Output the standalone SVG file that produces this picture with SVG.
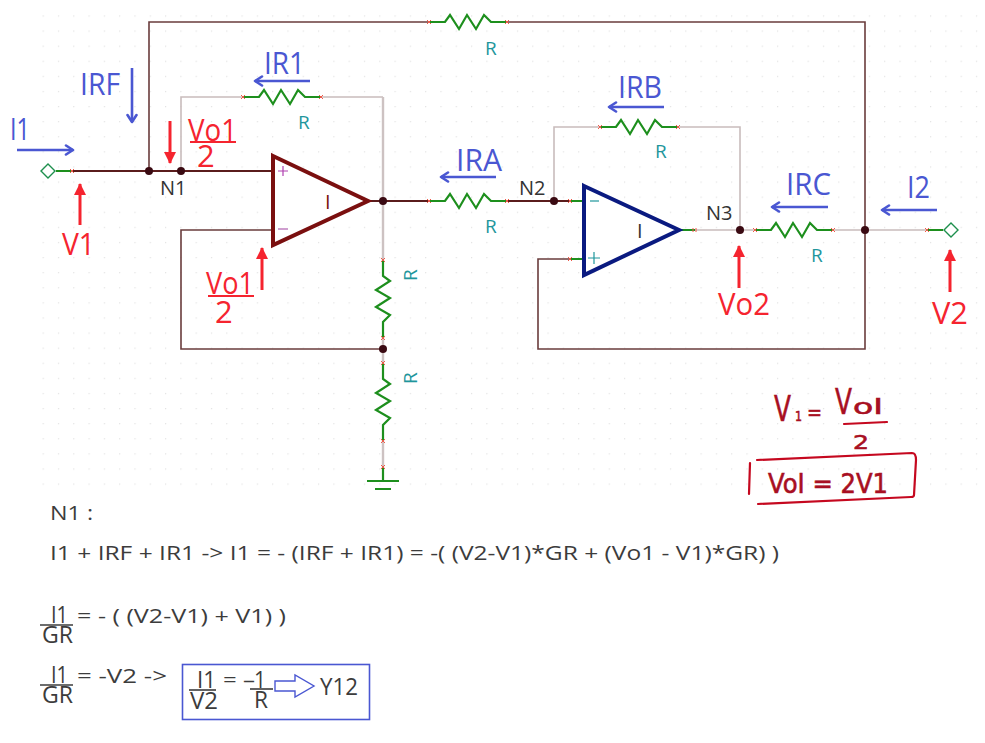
<svg xmlns="http://www.w3.org/2000/svg" width="985" height="743" viewBox="0 0 985 743">
<style>
text{font-family:"Open Sans","Noto Sans","Liberation Sans",sans-serif}
.w{fill:none;stroke:#6a3c3c;stroke-width:1.6}
.wd{fill:none;stroke:#5a1c1c;stroke-width:2}
.wl{fill:none;stroke:#c9bcbc;stroke-width:1.6}
.wt{fill:none;stroke:#cdc2c2;stroke-width:2.4}
.g{fill:none;stroke:#1d8f1d;stroke-width:2.2}
.pin{fill:none;stroke:#ee5a4a;stroke-width:1}
.dot{fill:#3a0a12}
.rl{fill:#1f969c;font-size:19px}
.bl{fill:#4a57d2;font-size:31px}
.rd{fill:#f5242f;font-size:31px}
.blk{fill:#333;font-size:20px}
.eq{fill:#3c3c3c;font-size:20px}
.frac{fill:#3c3c3c;font-size:24px}
.ba{fill:none;stroke:#4a57d2;stroke-width:2.6;marker-end:url(#ah)}
.ra{fill:none;stroke:#f5242f;stroke-width:3;marker-end:url(#rh)}
.ln{stroke:#3c3c3c;stroke-width:1.6}
.hand{fill:#a80f22;font-family:"DejaVu Sans",sans-serif;stroke:#a80f22;stroke-width:.6}
.hl{fill:none;stroke:#c5081f;stroke-width:2.2;stroke-linecap:round}
</style>
<defs>
<pattern id="grid" x="12" y="0.3" width="15.3" height="15.1" patternUnits="userSpaceOnUse"><rect width="1.2" height="1.2" fill="#e2e2e2"/></pattern>
<marker id="ah" viewBox="0 0 12 12" refX="10" refY="6" markerWidth="12" markerHeight="12" markerUnits="userSpaceOnUse" orient="auto"><path d="M3 1.5L10 6L3 10.5" fill="none" stroke="#4a57d2" stroke-width="2.6" stroke-linecap="round" stroke-linejoin="round"/></marker>
<marker id="rh" viewBox="0 0 12 14" refX="11" refY="7" markerWidth="12" markerHeight="14" markerUnits="userSpaceOnUse" orient="auto"><path d="M0 1L12 7L0 13Z" fill="#f5242f"/></marker>
<g id="res"><path class="g" d="M0 0H16L21 -7L30 7L38 -7L47 7L55 -7L62 0H78"/><path class="pin" d="M-2 -2L2 2M-2 2L2 -2M76 -2L80 2M76 2L80 -2"/></g>
</defs>
<rect x="35" y="5" width="950" height="492" fill="url(#grid)"/>
<g id="connectors">
<path class="w" d="M149 171V22H429M507 22H865V349H538V259H570"/>
<path class="wd" d="M72 171H272"/>
<path class="wl" d="M181 171V97H243M321 97H383"/>
<path class="wt" d="M383 97V260M383 335V363M383 441V467"/>
<path class="w" d="M272 230H181V349H383"/>
<path class="wd" d="M368 201H429M507 201H584"/>
<path class="wl" d="M554 201V127H600M678 127H740V230"/>
<path class="wl" d="M679 230H755M833 230H927"/>
<path class="g" d="M56 171H72M927 230H943M695 230H679M570 201H584M570 259H584"/>
<path class="g" d="M383 467V481"/>
<path class="pin" d="M70 169L74 173M70 173L74 169M925 228L929 232M925 232L929 228M568 257L572 261M568 261L572 257M568 199L572 203M568 203L572 199M693 228V232M696 228V232M381 465L385 469M381 469L385 465"/>
</g>
<g id="grid-nodes">
<g id="R-top"><use href="#res" x="429" y="22"/><text class="rl" x="485" y="55">R</text></g>
<g id="R1"><use href="#res" x="243" y="97"/><text class="rl" x="298" y="129">R</text></g>
<g id="RB"><use href="#res" x="600" y="127"/><text class="rl" x="655" y="158">R</text></g>
<g id="RA"><use href="#res" x="429" y="201"/><text class="rl" x="485" y="233">R</text></g>
<g id="RC"><use href="#res" x="755" y="230"/><text class="rl" x="811" y="262">R</text></g>
<g id="R2"><use href="#res" transform="translate(383 260) rotate(90)"/><text class="rl" transform="translate(417 281) rotate(-90)">R</text></g>
<g id="R3"><use href="#res" transform="translate(383 363) rotate(90)"/><text class="rl" transform="translate(417 384) rotate(-90)">R</text></g>
<g id="GND"><path class="g" d="M367 481H399M375 489H391"/></g>
<g id="P1"><path d="M48 164L55 171L48 178L41 171Z" fill="#fff" stroke="#1d8f4d" stroke-width="1.4"/></g>
<g id="P2"><path d="M951 223L958 230L951 237L944 230Z" fill="#fff" stroke="#1d8f4d" stroke-width="1.4"/></g>
<g id="U1"><path d="M273 156L368 201L273 245Z" fill="#fff" stroke="#7a0f0f" stroke-width="4"/><path d="M283 166V176M278 171H288" stroke="#b040b0" stroke-width="1.2"/><path d="M278 229H288" stroke="#b060b0" stroke-width="1.2"/><text x="325" y="209" font-size="20" fill="#7a0f0f">I</text></g>
<g id="U2"><path d="M584 186L679 230L584 275Z" fill="#fff" stroke="#0a1a80" stroke-width="4"/><path d="M590 201H599" stroke="#1f969c" stroke-width="1.2"/><path d="M594 252V264M588 258H600" stroke="#1f969c" stroke-width="1.2"/><text x="637" y="238" font-size="20" fill="#333">I</text></g>
<g id="J"><circle class="dot" cx="149" cy="171" r="4"/><circle class="dot" cx="181" cy="171" r="4"/><circle class="dot" cx="383" cy="201" r="4"/><circle class="dot" cx="383" cy="349" r="4"/><circle class="dot" cx="554" cy="201" r="4"/><circle class="dot" cx="740" cy="230" r="4"/><circle class="dot" cx="865" cy="230" r="4"/></g>
</g>
<g id="labels">
<text class="blk" x="160" y="195">N1</text><text class="blk" x="519" y="195">N2</text><text class="blk" x="706" y="220">N3</text>
<text class="bl" x="10" y="140" textLength="20" lengthAdjust="spacingAndGlyphs">I1</text><path class="ba" d="M17 150H73"/>
<text class="bl" x="80" y="95" textLength="40" lengthAdjust="spacingAndGlyphs">IRF</text><path class="ba" d="M132 68V122"/>
<text class="bl" x="264" y="74" textLength="41" lengthAdjust="spacingAndGlyphs">IR1</text><path class="ba" d="M310 81H255"/>
<text class="bl" x="456" y="171" textLength="46" lengthAdjust="spacingAndGlyphs">IRA</text><path class="ba" d="M496 177H441"/>
<text class="bl" x="618" y="98" textLength="44" lengthAdjust="spacingAndGlyphs">IRB</text><path class="ba" d="M664 107H609"/>
<text class="bl" x="786" y="195" textLength="45" lengthAdjust="spacingAndGlyphs">IRC</text><path class="ba" d="M828 207H772"/>
<text class="bl" x="907" y="198" textLength="23" lengthAdjust="spacingAndGlyphs">I2</text><path class="ba" d="M937 210H882"/>
<text class="rd" x="188" y="141" textLength="49" lengthAdjust="spacingAndGlyphs">Vo1</text><path d="M190 142H236" stroke="#f5242f" stroke-width="2"/><text class="rd" x="197" y="167">2</text><path class="ra" d="M170 121V163"/>
<text class="rd" x="62" y="255" textLength="33" lengthAdjust="spacingAndGlyphs">V1</text><path class="ra" d="M80 225V184"/>
<text class="rd" x="206" y="294" textLength="48" lengthAdjust="spacingAndGlyphs">Vo1</text><path d="M208 296H254" stroke="#f5242f" stroke-width="2"/><text class="rd" x="215" y="323">2</text><path class="ra" d="M262 290V248"/>
<text class="rd" x="718" y="315" textLength="52" lengthAdjust="spacingAndGlyphs">Vo2</text><path class="ra" d="M739 288V246"/>
<text class="rd" x="932" y="324" textLength="36" lengthAdjust="spacingAndGlyphs">V2</text><path class="ra" d="M950 292V250"/>
</g>
<g id="note">
<text class="hand" x="774" y="421" font-size="36" textLength="17" lengthAdjust="spacingAndGlyphs">V</text>
<text class="hand" x="795" y="421" font-size="14" textLength="7" lengthAdjust="spacingAndGlyphs">1</text>
<text class="hand" x="807" y="420" font-size="22" textLength="15" lengthAdjust="spacingAndGlyphs">=</text>
<text class="hand" x="835" y="414" font-size="36" textLength="17" lengthAdjust="spacingAndGlyphs">V</text>
<text class="hand" x="853" y="414" font-size="21" textLength="30" lengthAdjust="spacingAndGlyphs">oI</text>
<path class="hl" d="M844 424L887 422"/>
<text class="hand" x="853" y="449" font-size="20" textLength="16" lengthAdjust="spacingAndGlyphs">2</text>
<text class="hand" x="768" y="493" font-size="27" textLength="120" lengthAdjust="spacingAndGlyphs">VoI = 2V1</text>
<path class="hl" d="M750 463L749 494M757 460L912 453Q916 453 916 460L914 495Q914 497 911 497L758 504"/>
</g>
<g id="equations">
<text class="eq" x="50" y="520" textLength="43" lengthAdjust="spacingAndGlyphs">N1 :</text>
<text class="eq" x="50" y="560" textLength="729" lengthAdjust="spacingAndGlyphs">I1 + IRF + IR1 -&gt; I1 = - (IRF + IR1) = -( (V2-V1)*GR + (Vo1 - V1)*GR) )</text>
<text class="frac" x="51" y="623" textLength="17" lengthAdjust="spacingAndGlyphs">I1</text><path class="ln" d="M40 625H73"/>
<text class="frac" x="42" y="643" textLength="31" lengthAdjust="spacingAndGlyphs">GR</text>
<text class="eq" x="77" y="623" textLength="209" lengthAdjust="spacingAndGlyphs">= - ( (V2-V1) + V1) )</text>
<text class="frac" x="51" y="683" textLength="17" lengthAdjust="spacingAndGlyphs">I1</text><path class="ln" d="M40 685H73"/>
<text class="frac" x="42" y="703" textLength="31" lengthAdjust="spacingAndGlyphs">GR</text>
<text class="eq" x="77" y="683" textLength="90" lengthAdjust="spacingAndGlyphs">= -V2 -&gt;</text>
</g>
<g id="Y12">
<rect x="182.500" y="664.500" width="187" height="55" fill="none" stroke="#4a57d2" stroke-width="1.6"/>
<text class="frac" x="197" y="688" textLength="19" lengthAdjust="spacingAndGlyphs">I1</text><path class="ln" d="M189 690H216"/>
<text class="frac" x="190" y="709" textLength="28" lengthAdjust="spacingAndGlyphs">V2</text>
<text class="eq" x="223" y="687" textLength="32" lengthAdjust="spacingAndGlyphs">= –</text>
<text class="frac" x="254" y="688" textLength="12" lengthAdjust="spacingAndGlyphs">1</text><path class="ln" d="M250 689H273"/>
<text class="frac" x="254" y="708" textLength="14" lengthAdjust="spacingAndGlyphs">R</text>
<path d="M275 681H295V675L314 686L295 697V691H275Z" fill="#fff" stroke="#4a57d2" stroke-width="1.4"/>
<text class="frac" x="320" y="695" textLength="38" lengthAdjust="spacingAndGlyphs">Y12</text>
</g>
</svg>
